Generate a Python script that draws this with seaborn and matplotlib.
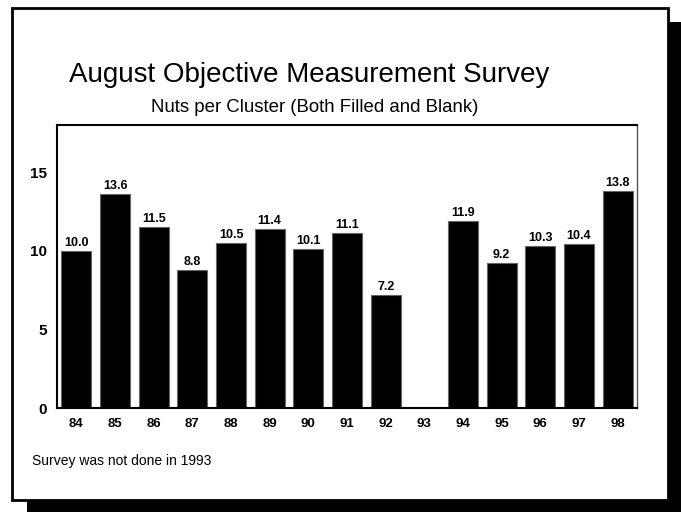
import numpy as np
import pandas as pd
import matplotlib
matplotlib.use("Agg")
import matplotlib.pyplot as plt
from matplotlib.patches import Rectangle
import seaborn as sns

years = ["84", "85", "86", "87", "88", "89", "90", "91", "92", "93", "94", "95", "96", "97", "98"]
nuts = [10.0, 13.6, 11.5, 8.8, 10.5, 11.4, 10.1, 11.1, 7.2, np.nan, 11.9, 9.2, 10.3, 10.4, 13.8]
yticks = [0, 5, 10, 15]

title = "August Objective Measurement Survey"
subtitle = "Nuts per Cluster (Both Filled and Blank)"
footnote = "Survey was not done in 1993"

sns.set_style("white")
FONT = ["Liberation Sans", "DejaVu Sans"]
plt.rcParams["font.family"] = FONT
plt.rcParams["text.color"] = "black"
plt.rcParams["xtick.color"] = "black"
plt.rcParams["ytick.color"] = "black"

W, H = 681, 512
fig = plt.figure(figsize=(W / 100, H / 100), dpi=100)

def fx(px):
    return px / W

def fy(py):
    return 1 - py / H

# drop shadow and frame
fig.patches.append(Rectangle((fx(27), fy(512)), fx(681) - fx(27), fy(22) - fy(512),
                             transform=fig.transFigure, facecolor="black", edgecolor="none", zorder=0))
fig.patches.append(Rectangle((fx(12), fy(500)), fx(668) - fx(12), fy(8) - fy(500),
                             transform=fig.transFigure, facecolor="white", edgecolor="black",
                             linewidth=2, zorder=1))

ax = fig.add_axes([fx(57), fy(408), fx(637) - fx(57), fy(125) - fy(408)])
ax.set_zorder(2)
df = pd.DataFrame({"year": years, "nuts": nuts})
sns.barplot(data=df, x="year", y="nuts", order=years, color="black", width=0.77,
            saturation=1, edgecolor="#666666", linewidth=0.8, ax=ax)
ax.set_ylim(0, 18)
ax.set_xlim(-0.5, len(years) - 0.5)
ax.set_yticks(yticks)
ax.set_yticklabels([str(t) for t in yticks], fontsize=11, fontweight="bold")
ax.set_xticks(range(len(years)))
ax.set_xticklabels(years, fontsize=9.5, fontweight="bold")
ax.tick_params(axis="x", length=0, pad=7)
ax.tick_params(axis="y", length=0, pad=7)
ax.set_xlabel("")
ax.set_ylabel("")
for side in ["left", "top", "bottom"]:
    ax.spines[side].set_color("black")
    ax.spines[side].set_linewidth(1.5)
ax.spines["right"].set_color("#555555")
ax.spines["right"].set_linewidth(1.0)

for i, v in enumerate(nuts):
    if np.isnan(v):
        continue
    ax.annotate(f"{v:.1f}", (i, v), xytext=(0, 1.5), textcoords="offset points",
                ha="center", va="bottom", fontsize=9, fontweight="bold")

fig.text(fx(309.5), fy(82), title, ha="center", va="baseline", fontsize=20)
fig.text(fx(314.5), fy(112), subtitle, ha="center", va="baseline", fontsize=13.4)
fig.text(fx(32), fy(465), footnote, ha="left", va="baseline", fontsize=10)

fig.savefig("out.png", dpi=100)
